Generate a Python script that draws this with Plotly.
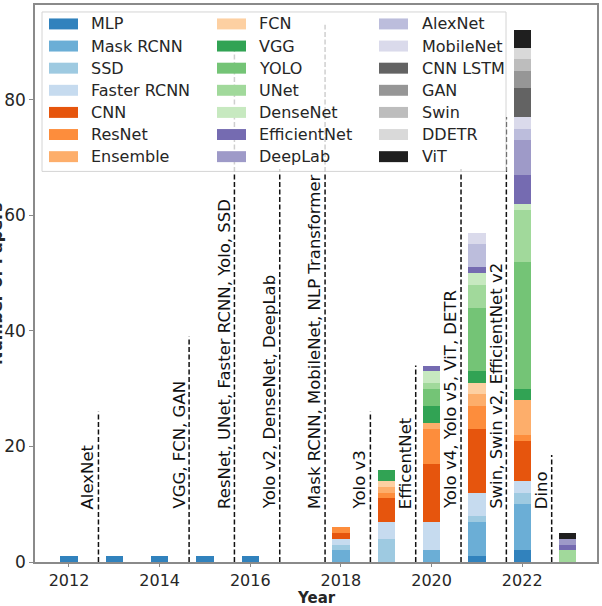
import plotly.graph_objects as go

# ---------------- data ----------------
years = [2012, 2013, 2014, 2015, 2016, 2017, 2018, 2019, 2020, 2021, 2022, 2023]

MLP          = [1, 1, 1, 1, 1, 0, 0, 0, 0, 1, 2, 0]
Mask_RCNN    = [0, 0, 0, 0, 0, 0, 2, 0, 2, 6, 8, 0]
SSD          = [0, 0, 0, 0, 0, 0, 1, 4, 0, 1, 2, 0]
Faster_RCNN  = [0, 0, 0, 0, 0, 0, 1, 3, 5, 4, 2, 0]
CNN          = [0, 0, 0, 0, 0, 0, 1, 4, 10, 11, 7, 0]
ResNet       = [0, 0, 0, 0, 0, 0, 1, 1, 6, 4, 1, 0]
Ensemble     = [0, 0, 0, 0, 0, 0, 0, 1, 1, 2, 6, 0]
FCN          = [0, 0, 0, 0, 0, 0, 0, 1, 0, 2, 0, 0]
VGG          = [0, 0, 0, 0, 0, 0, 0, 2, 3, 2, 2, 0]
YOLO         = [0, 0, 0, 0, 0, 0, 0, 0, 3, 11, 22, 0]
UNet         = [0, 0, 0, 0, 0, 0, 0, 0, 1, 4, 9, 2]
DenseNet     = [0, 0, 0, 0, 0, 0, 0, 0, 2, 2, 1, 0]
EfficientNet = [0, 0, 0, 0, 0, 0, 0, 0, 1, 1, 5, 1]
DeepLab      = [0, 0, 0, 0, 0, 0, 0, 0, 0, 0, 6, 1]
AlexNet      = [0, 0, 0, 0, 0, 0, 0, 0, 0, 4, 2, 0]
MobileNet    = [0, 0, 0, 0, 0, 0, 0, 0, 0, 2, 2, 0]
CNN_LSTM     = [0, 0, 0, 0, 0, 0, 0, 0, 0, 0, 5, 0]
GAN          = [0, 0, 0, 0, 0, 0, 0, 0, 0, 0, 3, 0]
Swin         = [0, 0, 0, 0, 0, 0, 0, 0, 0, 0, 2, 0]
DDETR        = [0, 0, 0, 0, 0, 0, 0, 0, 0, 0, 2, 0]
ViT          = [0, 0, 0, 0, 0, 0, 0, 0, 0, 0, 3, 1]

series_names = ["MLP", "Mask RCNN", "SSD", "Faster RCNN", "CNN", "ResNet", "Ensemble",
                "FCN", "VGG", "YOLO", "UNet", "DenseNet", "EfficientNet", "DeepLab",
                "AlexNet", "MobileNet", "CNN LSTM", "GAN", "Swin", "DDETR", "ViT"]
series_values = [MLP, Mask_RCNN, SSD, Faster_RCNN, CNN, ResNet, Ensemble,
                 FCN, VGG, YOLO, UNet, DenseNet, EfficientNet, DeepLab,
                 AlexNet, MobileNet, CNN_LSTM, GAN, Swin, DDETR, ViT]

event_years  = [2012, 2014, 2015, 2016, 2017, 2018, 2019, 2020, 2021, 2022]
event_labels = ["AlexNet", "VGG, FCN, GAN", "ResNet, UNet, Faster RCNN, Yolo, SSD",
                "Yolo v2, DenseNet, DeepLab", "Mask RCNN, MobileNet, NLP Transformer",
                "Yolo v3", "EfficentNet", "Yolo v4, Yolo v5, ViT, DETR",
                "Swin, Swin v2, EfficientNet v2", "Dino"]
event_tops   = [26, 39, 89, 68, 93, 26, 34, 68, 77, 18.5]

x_ticks = [2012, 2014, 2016, 2018, 2020, 2022]
y_ticks = [0, 20, 40, 60, 80]

# ---------------- style ----------------
colors = ["#3182bd", "#6baed6", "#9ecae1", "#c6dbef", "#e6550d", "#fd8d3c", "#fdae6b",
          "#fdd0a2", "#31a354", "#74c476", "#a1d99b", "#c7e9c0", "#756bb1", "#9e9ac8",
          "#bcbddc", "#dadaeb", "#636363", "#969696", "#bdbdbd", "#d9d9d9", "#1f1f1f"]
FONT = "DejaVu Sans"
TXT = "#262626"
AX = "#8a8a8a"
W, H = 602, 606
ML, MR, MT, MB = 35, 5, 3, 44
PW, PH = W - ML - MR, H - MT - MB
EVENT_OFFSET = 0.65
LABEL_BASE = 9

def px(xp):
    return (xp - ML) / PW

def py(yp):
    return (H - MB - yp) / PH

fig = go.Figure()
for name, vals, col in zip(series_names, series_values, colors):
    fig.add_trace(go.Bar(x=years, y=vals, name=name, width=0.38,
                         marker=dict(color=col, line=dict(width=0)),
                         showlegend=False))

shapes = []
annotations = []
for yr, lab, top in zip(event_years, event_labels, event_tops):
    xx = yr + EVENT_OFFSET
    shapes.append(dict(type="line", xref="x", yref="y", x0=xx, x1=xx, y0=0, y1=top,
                       line=dict(color="#111111", width=1.5, dash="5px,2.5px"), layer="above"))
    annotations.append(dict(x=xx, y=LABEL_BASE, xref="x", yref="y", text=lab,
                            textangle=-90, showarrow=False, xanchor="right", yanchor="bottom",
                            font=dict(family=FONT, size=16.5, color="#111111"),
                            borderpad=0))

# legend box (semi transparent, drawn after the dashed lines)
shapes.append(dict(type="rect", xref="paper", yref="paper",
                   x0=px(42), x1=px(506), y0=py(170), y1=py(10),
                   line=dict(color="#d4d4d4", width=1), fillcolor="rgba(255,255,255,0.8)",
                   layer="above"))
col_sw = [49, 217, 379]
col_tx = [89, 257, 420]
row0, rowgap = 22, 22.2
for i, (name, col) in enumerate(zip(series_names, colors)):
    c, r = divmod(i, 7)
    yc = row0 + r * rowgap
    shapes.append(dict(type="rect", xref="paper", yref="paper",
                       x0=px(col_sw[c]), x1=px(col_sw[c] + 29),
                       y0=py(yc + 5.5), y1=py(yc - 5.5),
                       line=dict(width=0), fillcolor=col, layer="above"))
    annotations.append(dict(x=px(col_tx[c]), y=py(yc), xref="paper", yref="paper",
                            text=name, showarrow=False, xanchor="left", yanchor="middle",
                            font=dict(family=FONT, size=16, color=TXT)))

# axis titles
annotations.append(dict(x=0.5, y=py(598), xref="paper", yref="paper", text="<b>Year</b>",
                        showarrow=False, xanchor="center", yanchor="middle",
                        font=dict(family=FONT, size=15, color=TXT)))
annotations.append(dict(x=px(8), y=0.5, xref="paper", yref="paper",
                        text="<b>Number of Papers</b>", textangle=-90,
                        showarrow=False, xanchor="right", yanchor="middle",
                        font=dict(family=FONT, size=16, color=TXT)))

fig.update_layout(
    width=W, height=H, barmode="stack",
    margin=dict(l=ML, r=MR, t=MT, b=MB),
    plot_bgcolor="white", paper_bgcolor="white",
    shapes=shapes, annotations=annotations,
    font=dict(family=FONT, color=TXT),
    bargap=0,
)
fig.update_xaxes(range=[2011.25, 2023.65], tickvals=x_ticks, ticktext=[str(t) for t in x_ticks],
                 ticks="outside", ticklen=3, tickwidth=1.2, tickcolor=AX,
                 showline=True, linecolor=AX, linewidth=1.5, mirror=True,
                 showgrid=False, zeroline=False, tickfont=dict(size=16, color=TXT, family=FONT))
fig.update_yaxes(range=[0, 96.4], tickvals=y_ticks, ticks="outside", ticklen=4, tickwidth=1.2,
                 tickcolor=AX, showline=True, linecolor=AX, linewidth=1.5, mirror=True,
                 showgrid=False, zeroline=False, tickfont=dict(size=17, color=TXT, family=FONT))

fig.write_html("out.html", config={"displayModeBar": False},
               post_script="document.body.style.margin='0px';")
